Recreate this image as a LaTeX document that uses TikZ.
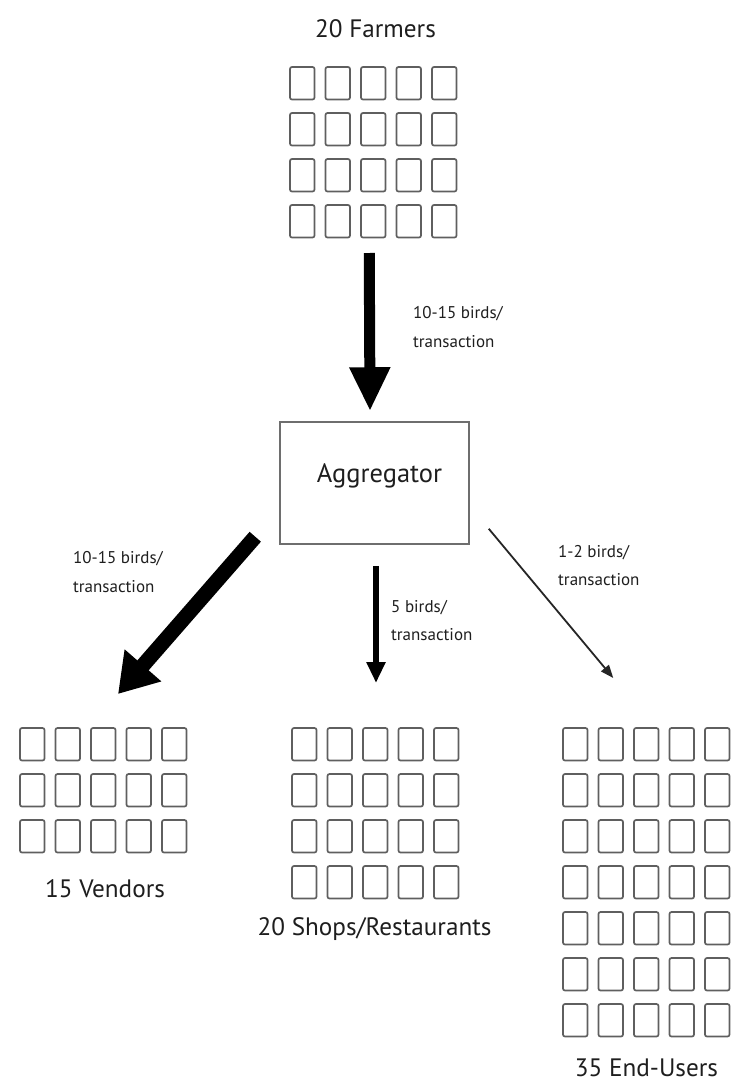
\documentclass[tikz,border=0pt]{standalone}
\usepackage{fontspec}
\setmainfont{PT Sans}
\usetikzlibrary{arrows.meta,fit}

\definecolor{cell}{RGB}{95,95,95}
\definecolor{ink}{RGB}{30,30,30}
\definecolor{frame}{RGB}{110,110,110}

% a block of 5 columns of small boxes: #1 = left, #2 = top, #3 = rows
\newcommand{\cellgrid}[3]{%
  \foreach \c in {0,...,4}{%
    \foreach \r in {1,...,#3}{%
      \draw[cellbox] ({#1+35.5*\c},{#2+46*(\r-1)}) rectangle ++(24.5,32.5);
    }%
  }%
}

\begin{document}
\begin{tikzpicture}[x=1pt,y=-1pt,
  cellbox/.style={draw=cell, line width=1.7pt, rounded corners=2pt},
  group/.style={inner sep=0pt, outer sep=0pt},
  grouplabel/.style={font=\fontsize{25.2}{30}\selectfont, text=ink, inner sep=0pt, anchor=base},
  ratelabel/.style={font=\fontsize{17}{20}\selectfont, text=ink, inner sep=0pt, anchor=base west},
  hub/.style={draw=frame, line width=1.5pt, minimum width=189pt, minimum height=122pt, inner sep=0pt},
  flow/.style={draw=black, line cap=butt}
]
\useasboundingbox (0,0) rectangle (732,1084);

% ---- the four groups of participants ----
\cellgrid{290}{67}{4}
\node[group, fit={(290,67) (456.5,237.5)}] (farmers) {};
\node[grouplabel] (farmerslbl) at (375.5,37) {20 Farmers};

\cellgrid{20}{728}{3}
\node[group, fit={(20,728) (186.5,852.5)}] (vendors) {};
\node[grouplabel] (vendorslbl) at (105,897) {15 Vendors};

\cellgrid{292}{728}{4}
\node[group, fit={(292,728) (458.5,898.5)}] (shops) {};
\node[grouplabel] (shopslbl) at (374.5,935) {20 Shops/Restaurants};

\cellgrid{563}{728}{7}
\node[group, fit={(563,728) (729.5,1036.5)}] (endusers) {};
\node[grouplabel] (enduserslbl) at (646.5,1076) {35 End-Users};

% ---- the aggregator ----
\node[hub] (agg) at (374.5,483) {};
\node[grouplabel, font=\fontsize{26.5}{30}\selectfont] (agglbl) at (379.5,482) {Aggregator};

% ---- flows of birds ----
\draw[flow, line width=11pt, -{Triangle[width=38pt,length=44pt]}]
  ([xshift=-4pt,yshift=-15.5pt]farmers.south) -- ([xshift=-4.5pt,yshift=10pt]agg.north);
\draw[flow, line width=15pt, -{Triangle[width=46pt,length=38pt]}]
  ([xshift=-24pt,yshift=8pt]agg.south west) -- ([xshift=14.75pt,yshift=34pt]vendors.north);
\draw[flow, line width=6pt, -{Triangle[width=18pt,length=21pt]}]
  ([xshift=1.5pt,yshift=-21pt]agg.south) -- ([xshift=0.75pt,yshift=45pt]shops.north);
\draw[flow, draw=black!85, line width=1.8pt, -{Triangle[width=10pt,length=13pt]}]
  ([xshift=19pt,yshift=16pt]agg.south east) -- ([xshift=-33pt,yshift=50pt]endusers.north);

% ---- flow rates ----
\node[ratelabel] (r1a) at (413,318) {10-15 birds/};
\node[ratelabel] (r1b) at (413,347) {transaction};
\node[ratelabel] (r2a) at (73,563) {10-15 birds/};
\node[ratelabel] (r2b) at (73,592) {transaction};
\node[ratelabel] (r3a) at (391,612) {5 birds/};
\node[ratelabel] (r3b) at (391,640) {transaction};
\node[ratelabel] (r4a) at (558,557) {1-2 birds/};
\node[ratelabel] (r4b) at (558,585) {transaction};
\end{tikzpicture}
\end{document}
